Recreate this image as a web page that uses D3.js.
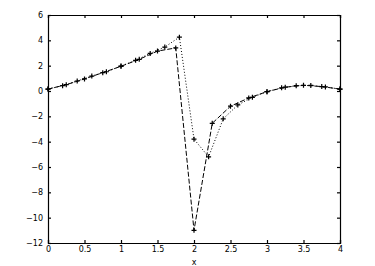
<!DOCTYPE html>
<html>
<head>
<meta charset="utf-8">
<script src="https://cdn.jsdelivr.net/npm/d3@7"></script>
<style>
  body { margin: 0; background: #fff; }
  svg text { font-family: "DejaVu Sans", sans-serif; font-size: 8px; fill: #000; }
</style>
</head>
<body>
<div id="chart"></div>
<script>
var xFine = [0, 0.2, 0.4, 0.6, 0.8, 1.0, 1.2, 1.4, 1.6, 1.8, 2.0, 2.2, 2.4, 2.6, 2.8, 3.0, 3.2, 3.4, 3.6, 3.8, 4.0];
var yFine = [0.15, 0.42, 0.79, 1.18, 1.52, 1.97, 2.42, 2.97, 3.47, 4.25, -3.8, -5.2, -2.2, -1.1, -0.5, -0.05, 0.25, 0.42, 0.44, 0.32, 0.15];

var xCoarse = [0, 0.25, 0.5, 0.75, 1.0, 1.25, 1.5, 1.75, 2.0, 2.25, 2.5, 2.75, 3.0, 3.25, 3.5, 3.75, 4.0];
var yCoarse = [0.15, 0.5, 0.95, 1.45, 1.95, 2.5, 3.15, 3.4, -11, -2.55, -1.2, -0.55, -0.05, 0.3, 0.45, 0.35, 0.15];

var xTicks = [0, 0.5, 1, 1.5, 2, 2.5, 3, 3.5, 4];
var yTicks = [-12, -10, -8, -6, -4, -2, 0, 2, 4, 6];

var width = 375, height = 266;
var margin = {top: 15, right: 35, bottom: 23, left: 48};

var svg = d3.select('#chart').append('svg')
    .attr('width', width)
    .attr('height', height);

var x = d3.scaleLinear().domain([0, 4]).range([margin.left, width - margin.right]);
var y = d3.scaleLinear().domain([-12, 6]).range([height - margin.bottom, margin.top]);

// Axes, ticks pointing inwards on all four sides
var tickLen = 3;
svg.append('g')
    .attr('transform', 'translate(0,' + y(-12) + ')')
    .call(d3.axisBottom(x).tickValues(xTicks).tickSize(-tickLen).tickPadding(3)
        .tickFormat(function(d) { return d; }));
svg.append('g')
    .attr('transform', 'translate(0,' + y(6) + ')')
    .call(d3.axisTop(x).tickValues(xTicks).tickSize(-tickLen).tickFormat(''));
svg.append('g')
    .attr('transform', 'translate(' + x(0) + ',0)')
    .call(d3.axisLeft(y).tickValues(yTicks).tickSize(-tickLen).tickPadding(5));
svg.append('g')
    .attr('transform', 'translate(' + x(4) + ',0)')
    .call(d3.axisRight(y).tickValues(yTicks).tickSize(-tickLen).tickFormat(''));

svg.selectAll('.domain').attr('stroke', '#000').attr('stroke-width', 1.2);
svg.selectAll('.tick line').attr('stroke', '#000').attr('stroke-width', 1.2);

svg.append('text')
    .attr('x', x(2))
    .attr('y', height - 1)
    .attr('text-anchor', 'middle')
    .text('x');

var line = d3.line()
    .x(function(d) { return x(d[0]); })
    .y(function(d) { return y(d[1]); });

var fine = d3.zip(xFine, yFine);
var coarse = d3.zip(xCoarse, yCoarse);

// dashed series
svg.append('path')
    .datum(coarse)
    .attr('d', line)
    .attr('fill', 'none')
    .attr('stroke', '#000')
    .attr('stroke-width', 1)
    .attr('stroke-dasharray', '5,2');

// dotted series
svg.append('path')
    .datum(fine)
    .attr('d', line)
    .attr('fill', 'none')
    .attr('stroke', '#000')
    .attr('stroke-width', 1)
    .attr('stroke-dasharray', '1,2');

// plus markers
function drawPlus(data, r) {
    svg.append('g').selectAll('path')
        .data(data)
        .enter().append('path')
        .attr('d', function(d) {
            var cx = x(d[0]), cy = y(d[1]);
            return 'M' + (cx - r) + ',' + cy + 'H' + (cx + r) + 'M' + cx + ',' + (cy - r) + 'V' + (cy + r);
        })
        .attr('stroke', '#000')
        .attr('stroke-width', 1.2)
        .attr('fill', 'none');
}
drawPlus(coarse, 2.5);
drawPlus(fine, 2.5);
</script>
</body>
</html>
